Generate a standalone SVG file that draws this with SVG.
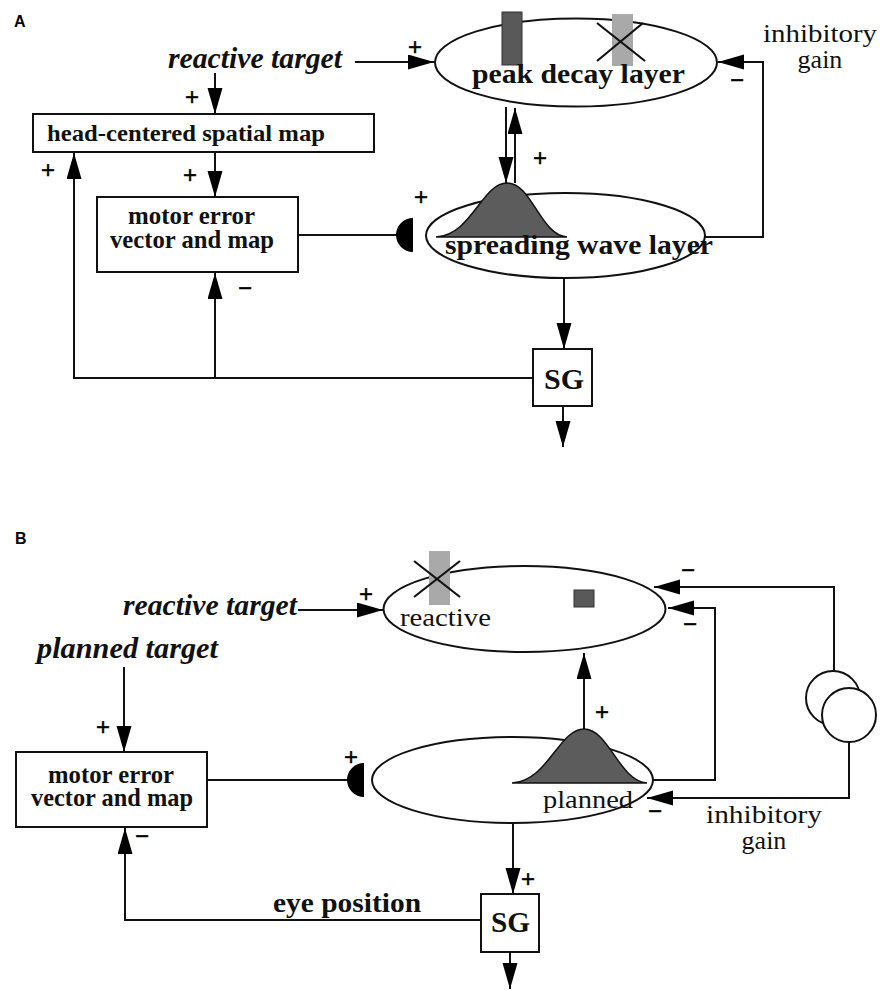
<svg xmlns="http://www.w3.org/2000/svg" width="882" height="990" viewBox="0 0 882 990">
  <style>
    .ln { fill: none; stroke: #111; stroke-width: 2; }
    .arr { marker-end: url(#head); }
    .box { fill: #fff; stroke: #111; stroke-width: 2; }
    .ell { fill: none; stroke: #111; stroke-width: 2; }
    .bell { fill: #5c5c5c; stroke: #111; stroke-width: 1.5; }
    .dark { fill: #595959; stroke: #333; stroke-width: 1; }
    .light { fill: #a9a9a9; }
    .cross { stroke: #111; stroke-width: 2.2; }
    .disc { fill: #000; }
    .panel { font-family: "Liberation Sans", Arial, sans-serif; font-weight: bold; font-size: 16px; fill: #000; }
    .bi { font-family: "Liberation Serif", "Times New Roman", serif; font-weight: bold; font-style: italic; font-size: 30px; fill: #111; }
    .b { font-family: "Liberation Serif", "Times New Roman", serif; font-weight: bold; fill: #111; }
    .r { font-family: "Liberation Serif", "Times New Roman", serif; font-size: 26px; fill: #111; }
    .sign { font-family: "Liberation Sans", Arial, sans-serif; font-size: 24px; fill: #000; stroke: #000; stroke-width: 0.4; text-anchor: middle; }
  </style>
  <defs>
    <marker id="head" markerUnits="userSpaceOnUse" markerWidth="27" markerHeight="16" refX="26" refY="7.5" orient="auto">
      <path d="M0,0 L26,7.5 L0,15 z" fill="#000"/>
    </marker>
  </defs>

  <rect width="882" height="990" fill="#fff"/>

  <!-- panel letters -->
  <text class="panel" x="14" y="27">A</text>
  <text class="panel" x="15" y="544">B</text>

  <!-- connectors -->
  <g id="connectors">
    <!-- panel A -->
    <path class="ln arr" d="M355,62 H434"/>
    <path class="ln arr" d="M215,73 V114"/>
    <path class="ln arr" d="M215,152 V197"/>
    <path class="ln" d="M298,235 H400"/>
    <path class="ln arr" d="M506,107 V183"/>
    <path class="ln arr" d="M515,183 V108"/>
    <path class="ln arr" d="M564,278 V349"/>
    <path class="ln arr" d="M563,406 V447"/>
    <path class="ln arr" d="M533,378 H74 V153"/>
    <path class="ln arr" d="M215,378 V273"/>
    <path class="ln arr" d="M705,237 H763 V62 H718"/>
    <!-- panel B -->
    <path class="ln arr" d="M298,610 H383"/>
    <path class="ln arr" d="M124,667 V752"/>
    <path class="ln" d="M207,780 H350"/>
    <path class="ln arr" d="M584,729 V653"/>
    <path class="ln arr" d="M653,780 H715 V608 H668"/>
    <path class="ln arr" d="M834,672 V587 H654"/>
    <path class="ln arr" d="M849,742 V798 H647"/>
    <path class="ln arr" d="M513,823 V894"/>
    <path class="ln arr" d="M510,952 V989"/>
    <path class="ln arr" d="M481,920 H125 V828"/>
  </g>

  <!-- ===== panel A nodes ===== -->
  <g id="reactive-target-a">
    <text class="bi" x="168" y="68" textLength="174" lengthAdjust="spacingAndGlyphs">reactive target</text>
  </g>

  <g id="head-centered-map">
    <rect class="box" x="33" y="114" width="341" height="38"/>
    <text class="b" x="47" y="141" font-size="24" textLength="278" lengthAdjust="spacingAndGlyphs">head-centered spatial map</text>
  </g>

  <g id="motor-error-a">
    <rect class="box" x="97" y="197" width="201" height="75"/>
    <text class="b" x="128" y="224" font-size="25" textLength="127" lengthAdjust="spacingAndGlyphs">motor error</text>
    <text class="b" x="110" y="248" font-size="25" textLength="164" lengthAdjust="spacingAndGlyphs">vector and map</text>
  </g>

  <g id="gate-a">
    <path class="disc" d="M413,218 A17,17 0 0 0 413,252 Z"/>
  </g>

  <g id="peak-decay-layer">
    <ellipse class="ell" cx="576" cy="62.5" rx="141" ry="44"/>
    <rect class="dark" x="502" y="12" width="20" height="53"/>
    <rect class="light" x="612" y="14" width="21" height="52"/>
    <line class="cross" x1="597" y1="23" x2="645" y2="61"/>
    <line class="cross" x1="643" y1="23" x2="597" y2="61"/>
    <text class="b" x="472" y="83" font-size="28" textLength="213" lengthAdjust="spacingAndGlyphs">peak decay layer</text>
  </g>

  <g id="spreading-wave-layer">
    <ellipse class="ell" cx="565.5" cy="235.5" rx="139.5" ry="42.5"/>
    <path class="bell" d="M436,237 C472,235 482,183 507,183 C532,183 540,235 567,237 Z"/>
    <text class="b" x="445" y="254" font-size="28" textLength="268" lengthAdjust="spacingAndGlyphs">spreading wave layer</text>
  </g>

  <g id="inhibitory-gain-a">
    <text class="r" x="763" y="42" textLength="114" lengthAdjust="spacingAndGlyphs">inhibitory</text>
    <text class="r" x="820" y="68" text-anchor="middle">gain</text>
  </g>

  <g id="sg-a">
    <rect class="box" x="533" y="349" width="59" height="57"/>
    <text class="b" x="544" y="389" font-size="30" textLength="40" lengthAdjust="spacingAndGlyphs">SG</text>
  </g>

  <g id="signs-a">
    <text class="sign" x="415" y="55">+</text>
    <text class="sign" x="192" y="105">+</text>
    <text class="sign" x="190" y="183">+</text>
    <text class="sign" x="48" y="178">+</text>
    <text class="sign" x="421" y="205">+</text>
    <text class="sign" x="540" y="166">+</text>
    <text class="sign" x="737" y="88">−</text>
    <text class="sign" x="245" y="296">−</text>
  </g>

  <!-- ===== panel B nodes ===== -->
  <g id="reactive-target-b">
    <text class="bi" x="123" y="615" textLength="174" lengthAdjust="spacingAndGlyphs">reactive target</text>
  </g>

  <g id="planned-target">
    <text class="bi" x="37" y="658" textLength="181" lengthAdjust="spacingAndGlyphs">planned target</text>
  </g>

  <g id="reactive-layer">
    <ellipse class="ell" cx="524.5" cy="609" rx="141" ry="43"/>
    <rect class="light" x="429" y="551" width="21" height="54"/>
    <line class="cross" x1="414" y1="561" x2="460" y2="597"/>
    <line class="cross" x1="460" y1="561" x2="414" y2="597"/>
    <rect class="dark" x="574" y="590" width="20" height="17"/>
    <text class="r" x="400" y="626" font-size="27" textLength="91" lengthAdjust="spacingAndGlyphs">reactive</text>
  </g>

  <g id="motor-error-b">
    <rect class="box" x="16" y="752" width="191" height="75"/>
    <text class="b" x="48" y="783" font-size="25" textLength="126" lengthAdjust="spacingAndGlyphs">motor error</text>
    <text class="b" x="31" y="806" font-size="25" textLength="162" lengthAdjust="spacingAndGlyphs">vector and map</text>
  </g>

  <g id="gate-b">
    <path class="disc" d="M364,763 A17,17 0 0 0 364,797 Z"/>
  </g>

  <g id="planned-layer">
    <ellipse class="ell" cx="512.5" cy="780" rx="140.5" ry="43"/>
    <path class="bell" d="M512,783 C548,781 559,729 584,729 C609,729 619,781 647,783 Z"/>
    <text class="r" x="543" y="808" font-size="27" textLength="90" lengthAdjust="spacingAndGlyphs">planned</text>
  </g>

  <g id="gain-units">
    <circle class="box" cx="833" cy="698" r="27"/>
    <circle class="box" cx="849" cy="715" r="27"/>
  </g>

  <g id="inhibitory-gain-b">
    <text class="r" x="706" y="823" textLength="116" lengthAdjust="spacingAndGlyphs">inhibitory</text>
    <text class="r" x="764" y="849" text-anchor="middle">gain</text>
  </g>

  <g id="eye-position">
    <text class="b" x="273" y="912" font-size="28" textLength="148" lengthAdjust="spacingAndGlyphs">eye position</text>
  </g>

  <g id="sg-b">
    <rect class="box" x="481" y="894" width="58" height="58"/>
    <text class="b" x="491" y="932" font-size="30" textLength="39" lengthAdjust="spacingAndGlyphs">SG</text>
  </g>

  <g id="signs-b">
    <text class="sign" x="366" y="602">+</text>
    <text class="sign" x="688" y="578">−</text>
    <text class="sign" x="690" y="632">−</text>
    <text class="sign" x="602" y="720">+</text>
    <text class="sign" x="103" y="735">+</text>
    <text class="sign" x="351" y="765">+</text>
    <text class="sign" x="655" y="819">−</text>
    <text class="sign" x="528" y="887">+</text>
    <text class="sign" x="142" y="844">−</text>
  </g>
</svg>
